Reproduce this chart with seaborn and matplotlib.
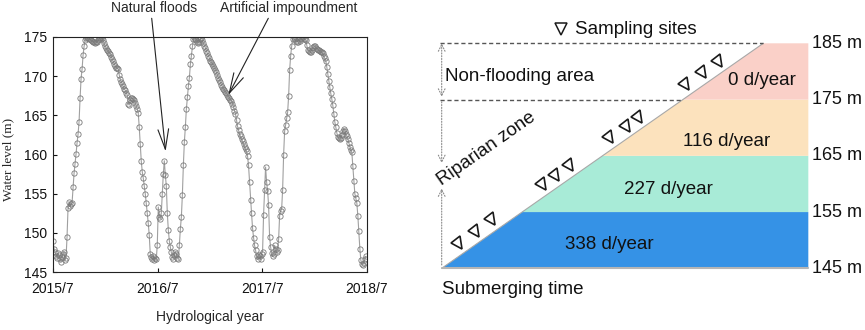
import pandas as pd
import seaborn as sns
import matplotlib
matplotlib.use('Agg')
import matplotlib.pyplot as plt
from matplotlib.markers import MarkerStyle
from matplotlib.transforms import Affine2D

# water level (m) every 3.5 days, starting 2015-07-01
water_level = [
    148.9, 148.0, 147.5, 147.0, 146.8, 147.4, 147.2, 146.7, 146.3, 146.9,
    147.3, 147.6, 146.5, 146.8, 149.5, 153.2, 154.0, 153.4, 153.7, 153.8,
    155.8, 157.6, 158.8, 160.1, 161.5, 162.6, 164.2, 167.2, 169.7, 170.9,
    172.7, 173.8, 174.6, 174.9, 175.0, 174.9, 174.8, 174.7, 174.6, 174.5,
    174.4, 174.3, 174.2, 174.3, 174.4, 174.6, 174.8, 174.9, 175.0, 174.9,
    174.6, 174.2, 173.8, 173.6, 173.4, 173.2, 173.0, 172.8, 172.5, 172.2,
    171.9, 171.6, 171.3, 171.1, 171.0, 170.9, 170.2, 169.6, 169.3, 169.0,
    168.7, 168.4, 168.2, 167.9, 167.6, 166.5, 166.3, 166.9, 167.2, 167.2,
    167.1, 166.9, 166.6, 166.2, 165.8, 165.3, 163.5, 161.3, 159.2, 157.8,
    157.0, 156.0, 155.0, 153.8, 152.5, 151.2, 149.7, 147.3, 146.9, 146.6,
    147.0, 146.5, 146.8, 146.6, 148.5, 153.3, 152.0, 151.8, 152.5, 155.0,
    157.5, 159.2, 157.4, 156.0, 152.5, 150.4, 149.0, 148.2, 147.5, 146.9,
    146.7, 147.2, 147.6, 147.3, 146.8, 146.6, 148.4, 150.5, 152.0, 154.8,
    158.6, 161.6, 163.5, 165.8, 167.3, 168.7, 169.8, 171.5, 172.6, 173.8,
    174.8, 175.0, 174.8, 174.6, 174.3, 174.2, 174.4, 174.7, 174.9, 174.6,
    174.2, 173.9, 173.6, 173.2, 172.9, 172.6, 172.3, 172.0, 171.8, 171.5,
    171.3, 171.0, 170.8, 170.5, 170.1, 169.8, 169.5, 169.2, 168.9, 168.6,
    168.4, 168.2, 168.0, 167.8, 167.6, 167.4, 167.2, 167.0, 166.8, 166.5,
    166.1, 165.6, 165.2, 164.4, 163.6, 163.1, 162.6, 162.3, 162.0, 161.7,
    161.4, 161.0, 160.7, 160.4, 159.8, 158.6, 156.5, 154.2, 152.5, 150.6,
    149.4, 148.4, 147.8, 147.0, 146.6, 147.2, 147.0, 146.6, 147.3, 147.6,
    152.3, 155.5, 158.4, 156.5, 155.4, 153.5, 149.5, 148.2, 147.4, 147.0,
    147.3, 148.4, 148.0, 147.5, 147.8, 149.2, 152.2, 152.8, 153.0, 155.5,
    160.0, 163.0, 163.8, 164.6, 165.4, 167.5, 170.8, 172.6, 173.8, 174.8,
    175.0, 174.7, 174.5, 174.4, 174.4, 174.7, 174.5, 174.8, 175.0, 175.0,
    174.8, 174.7, 174.6, 174.0, 173.4, 173.2, 173.1, 173.1, 173.4, 173.7,
    173.9, 173.8, 173.6, 173.5, 173.4, 173.3, 173.2, 173.1, 173.1, 172.9,
    172.6, 172.3, 172.0, 171.2, 170.3, 169.4, 168.6, 167.8, 167.1, 166.3,
    165.2, 164.2, 163.5, 162.8, 162.2, 162.1, 162.0, 162.1, 162.5, 163.0,
    163.3, 163.0, 162.6, 162.4, 162.0, 161.5, 161.0, 160.6, 160.3, 158.5,
    156.6, 155.0, 154.4, 153.8, 152.2, 150.2, 148.0, 146.5, 146.0, 145.9,
    146.2, 146.6, 147.0,
]
tick_dates = ['2015-07-01', '2016-07-01', '2017-07-01', '2018-07-01']
tick_labels = ['2015/7', '2016/7', '2017/7', '2018/7']
flood_date, flood_level = '2016-07-28', 160.4
impound_date, impound_level = '2017-03-04', 167.6

# schematic
levels = [145, 155, 165, 175, 185]
submerge_days = [338, 227, 116, 0]
band_colors = ['#3592e6', '#a8ebd7', '#fce2bd', '#fad0c8']
site_elev = [149.4, 151.5, 153.5, 159.8, 161.4, 163.2,
             168.1, 170.2, 171.7, 177.6, 179.7, 181.7]

sns.set_theme(style='ticks')
plt.rcParams['font.family'] = ['Liberation Sans', 'DejaVu Sans']

W, H = 865, 330
fig = plt.figure(figsize=(W / 100, H / 100), dpi=100)

# ---- left: water level series
ax = fig.add_axes([53 / W, 1 - 272 / H, (367 - 53) / W, (272 - 37) / H])
df = pd.DataFrame({'date': pd.date_range('2015-07-01', periods=len(water_level), freq='84h'),
                   'level': water_level})
sns.lineplot(data=df, x='date', y='level', ax=ax, color='#a0a0a0', linewidth=0.8,
             marker='o', markersize=3.8, markerfacecolor='none',
             markeredgecolor='#7a7a7a', markeredgewidth=0.6)
td = pd.to_datetime(tick_dates)
ax.set_xlim(td[0], td[-1])
ax.set_xticks(td)
ax.set_xticklabels(tick_labels)
ax.set_ylim(145, 175)
ax.set_yticks(range(145, 176, 5))
ax.set_xlabel('')
ax.set_ylabel('')
ax.tick_params(direction='in', length=3, width=0.8, labelsize=10, colors='#111111')
ax.tick_params(axis='x', pad=7)
ax.tick_params(axis='y', pad=4)
for s in ax.spines.values():
    s.set_linewidth(0.8)
    s.set_color('#222222')

fig.text(8 / W, 1 - 159 / H, 'Water level (m)', rotation=90, ha='center', va='center',
         fontsize=9.5, family=['Liberation Serif', 'DejaVu Serif'])
fig.text(210 / W, 1 - 317 / H, 'Hydrological year', ha='center', va='center', fontsize=10)

arrow = dict(arrowstyle='->,head_length=1.2,head_width=0.32', lw=0.8, color='#222222',
             shrinkA=0, shrinkB=0)
ax.annotate('', xy=(pd.Timestamp(flood_date), flood_level), xytext=(151.7, H - 18.3),
            textcoords='figure pixels', arrowprops=arrow, annotation_clip=False)
ax.annotate('', xy=(pd.Timestamp(impound_date), impound_level), xytext=(268.3, H - 18.3),
            textcoords='figure pixels', arrowprops=arrow, annotation_clip=False)
fig.text(153.7 / W, 1 - 8 / H, 'Natural floods', ha='center', va='center', fontsize=10)
fig.text(288.3 / W, 1 - 8 / H, 'Artificial impoundment', ha='center', va='center', fontsize=10)

# ---- right: schematic of the riparian zone
ax2 = fig.add_axes([430 / W, 0, 435 / W, 1])
ax2.set_xlim(-1.455, 52.65)
ax2.set_ylim(134.03, 192.7)
ax2.axis('off')

right = 45.6
label_x = [20.9, 28.2, 35.4, 39.8]
label_y = [149.3, 159.0, 167.5, 178.3]
fs = 13.5
for lo, hi, d, c, lx, ly in zip(levels[:-1], levels[1:], submerge_days, band_colors,
                                label_x, label_y):
    ax2.fill([lo - 145, hi - 145, right, right], [lo, hi, hi, lo], color=c, lw=0)
    ax2.text(lx, ly, f'{d} d/year', ha='center', va='center', fontsize=fs, color='#111111')
for lv in levels:
    ax2.text(46.0, lv, f'{lv} m', ha='left', va='center', fontsize=13, color='#111111')

ax2.plot([0, levels[-1] - 145], [145, levels[-1]], color='#a8a8a8', lw=0.8)
ax2.plot([0, right], [145, 145], color='#b5b5b5', lw=1.5)
ax2.plot([-0.2, 40], [185, 185], color='#555555', lw=1, dashes=(3, 2))
ax2.plot([-0.2, 30], [175, 175], color='#555555', lw=1, dashes=(3, 2))

dots = dict(color='#8a8a8a', lw=0.8, ls=(0, (1, 1.5)), shrinkA=0, shrinkB=0)
ax2.annotate('', xy=(0, 175.5), xytext=(0, 185.0),
             arrowprops=dict(arrowstyle='<->,head_length=0.4,head_width=0.2', **dots))
ax2.annotate('', xy=(0, 163.7), xytext=(0, 174.6),
             arrowprops=dict(arrowstyle='->,head_length=0.4,head_width=0.2', **dots))
ax2.annotate('', xy=(0, 159.2), xytext=(0, 145.6),
             arrowprops=dict(arrowstyle='->,head_length=0.4,head_width=0.2', **dots))

tri = MarkerStyle('v', transform=Affine2D().rotate_deg(35))
site_x = [e - 145 - 2.2 for e in site_elev]
ax2.plot(site_x, site_elev, ls='none', marker=tri, ms=8.5, mfc='none', mec='#1a1a1a', mew=1.2)
ax2.plot([14.8], [187.5], ls='none', marker='v', ms=8, mfc='none', mec='#1a1a1a', mew=1.1)
ax2.text(16.6, 187.4, 'Sampling sites', ha='left', va='center', fontsize=fs, color='#111111')

ax2.text(0.4, 179.1, 'Non-flooding area', ha='left', va='center', fontsize=fs, color='#111111')
ax2.text(5.63, 166.3, 'Riparian zone', rotation=35, ha='center', va='center',
         fontsize=fs, color='#111111')
ax2.text(0, 141.3, 'Submerging time', ha='left', va='center', fontsize=fs, color='#111111')

fig.savefig('out.png', dpi=100)
